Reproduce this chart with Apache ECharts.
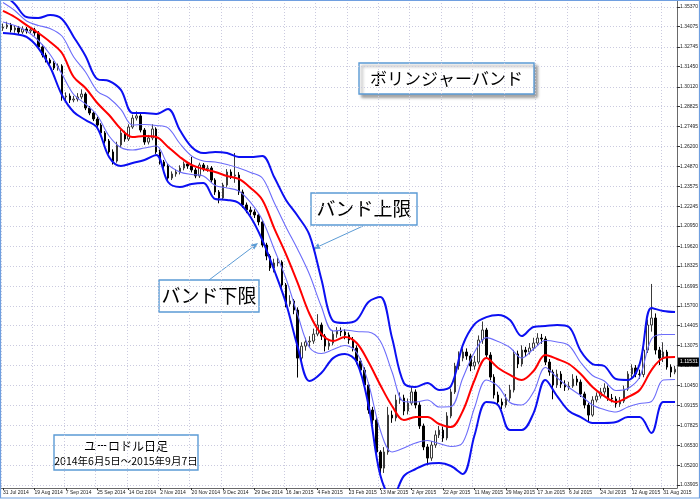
<!DOCTYPE html>
<html>
<head>
<meta charset="utf-8">
<script src="https://cdn.jsdelivr.net/npm/echarts@6/dist/echarts.min.js"></script>
<style>
  html, body { margin: 0; padding: 0; background: #ffffff; }
  #chart { width: 700px; height: 499px; }
</style>
</head>
<body>
<div id="chart"></div>
<script>
// EUR/USD daily bars (two sessions per bar) with Bollinger bands

const xTickLabels = ['31 Jul 2014','19 Aug 2014','7 Sep 2014','25 Sep 2014','14 Oct 2014','2 Nov 2014',
  '20 Nov 2014','9 Dec 2014','29 Dec 2014','16 Jan 2015','4 Feb 2015','23 Feb 2015','13 Mar 2015',
  '2 Apr 2015','22 Apr 2015','11 May 2015','29 May 2015','17 Jun 2015','6 Jul 2015','24 Jul 2015',
  '12 Aug 2015','31 Aug 2015'];

const yTickLabels = ['1.35370','1.34075','1.32745','1.31450','1.30120','1.28825','1.27495','1.26200',
  '1.24870','1.23575','1.22245','1.20950','1.19620','1.18325','1.16995','1.15700','1.14405','1.13075',
  '1.11780','1.10450','1.09155','1.07825','1.06530','1.05200','1.03905'];

const open = [1.3398,1.3405,1.3418,1.3386,1.3399,1.3372,1.3392,1.3379,1.3386,1.3366,
  1.3274,1.3221,1.3188,1.3168,1.3135,1.3149,1.2945,1.2951,1.2925,1.2931,
  1.2945,1.2964,1.2872,1.2839,1.2800,1.2760,1.2708,1.2655,1.2583,1.2523,
  1.2629,1.2708,1.2668,1.2747,1.2806,1.2820,1.2727,1.2648,1.2675,1.2734,
  1.2583,1.2517,1.2490,1.2411,1.2438,1.2451,1.2477,1.2504,1.2490,1.2464,
  1.2425,1.2497,1.2471,1.2477,1.2398,1.2319,1.2280,1.2365,1.2451,1.2425,
  1.2431,1.2319,1.2234,1.2201,1.2188,1.2168,1.2122,1.1970,1.1898,1.1819,
  1.1852,1.1858,1.1707,1.1582,1.1602,1.1542,1.1226,1.1305,1.1332,1.1338,
  1.1384,1.1444,1.1371,1.1305,1.1325,1.1384,1.1404,1.1398,1.1378,1.1345,
  1.1292,1.1207,1.1147,1.1049,1.0884,1.0818,1.0608,1.0502,1.0608,1.0851,
  1.0832,1.0950,1.0963,1.0878,1.0930,1.1003,1.0917,1.0779,1.0641,1.0568,
  1.0654,1.0720,1.0752,1.0700,1.0845,1.1003,1.1174,1.1226,1.1266,1.1240,
  1.1174,1.1200,1.1345,1.1411,1.1246,1.1101,1.0983,1.0937,1.0917,1.0963,
  1.1016,1.1253,1.1187,1.1279,1.1266,1.1292,1.1325,1.1358,1.1352,1.1200,
  1.1134,1.1049,1.1121,1.1055,1.1036,1.1042,1.1088,1.1068,1.0990,1.0917,
  1.0851,1.0950,1.0976,1.1003,1.1029,1.0963,1.0957,1.0924,1.0943,1.1022,
  1.1121,1.1161,1.1121,1.1118,1.1279,1.1444,1.1490,1.1279,1.1226,1.1266,
  1.1167,1.1134];

const close = [1.3405,1.3418,1.3386,1.3399,1.3372,1.3392,1.3379,1.3386,1.3366,1.3274,
  1.3221,1.3188,1.3168,1.3135,1.3149,1.2945,1.2951,1.2925,1.2931,1.2945,
  1.2964,1.2872,1.2839,1.2800,1.2760,1.2708,1.2655,1.2583,1.2523,1.2629,
  1.2708,1.2668,1.2747,1.2806,1.2820,1.2727,1.2648,1.2675,1.2734,1.2583,
  1.2517,1.2490,1.2411,1.2438,1.2451,1.2477,1.2504,1.2490,1.2464,1.2425,
  1.2497,1.2471,1.2477,1.2398,1.2319,1.2280,1.2365,1.2451,1.2425,1.2431,
  1.2319,1.2234,1.2201,1.2188,1.2168,1.2122,1.1970,1.1898,1.1819,1.1852,
  1.1858,1.1707,1.1582,1.1602,1.1542,1.1226,1.1305,1.1332,1.1338,1.1384,
  1.1444,1.1371,1.1305,1.1325,1.1384,1.1404,1.1398,1.1378,1.1345,1.1292,
  1.1207,1.1147,1.1049,1.0884,1.0818,1.0608,1.0502,1.0608,1.0851,1.0832,
  1.0950,1.0963,1.0878,1.0930,1.1003,1.0917,1.0779,1.0641,1.0568,1.0654,
  1.0720,1.0752,1.0700,1.0845,1.1003,1.1174,1.1226,1.1266,1.1240,1.1174,
  1.1200,1.1345,1.1411,1.1246,1.1101,1.0983,1.0937,1.0917,1.0963,1.1016,
  1.1253,1.1187,1.1279,1.1266,1.1292,1.1325,1.1358,1.1352,1.1200,1.1134,
  1.1049,1.1121,1.1055,1.1036,1.1042,1.1088,1.1068,1.0990,1.0917,1.0851,
  1.0950,1.0976,1.1003,1.1029,1.0963,1.0957,1.0924,1.0943,1.1022,1.1121,
  1.1161,1.1121,1.1118,1.1279,1.1444,1.1490,1.1279,1.1226,1.1266,1.1167,
  1.1134,1.11531];

const high = [1.3428,1.3440,1.3432,1.3418,1.3412,1.3410,1.3405,1.3404,1.3400,1.3378,
  1.3290,1.3236,1.3200,1.3180,1.3165,1.3160,1.2975,1.2968,1.2952,1.2970,
  1.2995,1.2975,1.2885,1.2850,1.2815,1.2772,1.2720,1.2668,1.2600,1.2650,
  1.2730,1.2722,1.2765,1.2828,1.2850,1.2832,1.2740,1.2695,1.2765,1.2745,
  1.2598,1.2530,1.2505,1.2455,1.2470,1.2495,1.2520,1.2518,1.2550,1.2478,
  1.2512,1.2510,1.2496,1.2490,1.2410,1.2332,1.2380,1.2470,1.2468,1.2576,
  1.2450,1.2335,1.2250,1.2222,1.2205,1.2180,1.2135,1.1985,1.1910,1.1880,
  1.1885,1.1870,1.1720,1.1640,1.1615,1.1560,1.1330,1.1360,1.1370,1.1420,
  1.1515,1.1460,1.1385,1.1350,1.1410,1.1430,1.1428,1.1415,1.1395,1.1365,
  1.1310,1.1225,1.1165,1.1065,1.0905,1.0835,1.0620,1.0640,1.0905,1.0880,
  1.0985,1.1000,1.0985,1.0960,1.1035,1.1020,1.0935,1.0795,1.0660,1.0680,
  1.0750,1.0780,1.0775,1.0870,1.1025,1.1195,1.1270,1.1290,1.1290,1.1255,
  1.1240,1.1375,1.1467,1.1425,1.1265,1.1120,1.1005,1.0960,1.0990,1.1050,
  1.1280,1.1275,1.1310,1.1300,1.1325,1.1360,1.1390,1.1385,1.1370,1.1220,
  1.1150,1.1150,1.1140,1.1080,1.1070,1.1120,1.1110,1.1085,1.1005,1.0930,
  1.0975,1.1000,1.1030,1.1060,1.1045,1.0990,1.0975,1.0970,1.1045,1.1140,
  1.1185,1.1180,1.1150,1.1300,1.1480,1.1714,1.1520,1.1300,1.1330,1.1280,
  1.1185,1.1175];

const low = [1.3380,1.3392,1.3370,1.3368,1.3355,1.3360,1.3362,1.3365,1.3348,1.3262,
  1.3205,1.3172,1.3148,1.3122,1.3118,1.2920,1.2918,1.2905,1.2910,1.2915,
  1.2930,1.2858,1.2825,1.2786,1.2745,1.2692,1.2638,1.2570,1.2500,1.2512,
  1.2612,1.2650,1.2655,1.2735,1.2790,1.2712,1.2630,1.2632,1.2660,1.2570,
  1.2500,1.2474,1.2395,1.2398,1.2420,1.2435,1.2462,1.2472,1.2448,1.2410,
  1.2412,1.2455,1.2452,1.2382,1.2300,1.2245,1.2268,1.2350,1.2405,1.2380,
  1.2300,1.2215,1.2180,1.2165,1.2148,1.2100,1.1955,1.1870,1.1800,1.1790,
  1.1830,1.1690,1.1560,1.1565,1.1515,1.1098,1.1190,1.1275,1.1300,1.1320,
  1.1370,1.1345,1.1270,1.1280,1.1310,1.1360,1.1370,1.1350,1.1320,1.1270,
  1.1185,1.1120,1.1030,1.0860,1.0790,1.0585,1.0462,1.0470,1.0590,1.0800,
  1.0810,1.0925,1.0850,1.0855,1.0915,1.0895,1.0760,1.0620,1.0521,1.0550,
  1.0635,1.0700,1.0675,1.0685,1.0830,1.0990,1.1150,1.1205,1.1215,1.1140,
  1.1150,1.1185,1.1320,1.1220,1.1080,1.0960,1.0915,1.0890,1.0900,1.0945,
  1.1000,1.1160,1.1170,1.1235,1.1250,1.1275,1.1310,1.1320,1.1180,1.1110,
  1.0955,1.1030,1.1030,1.1010,1.1015,1.1030,1.1045,1.0970,1.0895,1.0808,
  1.0840,1.0935,1.0960,1.0985,1.0945,1.0935,1.0900,1.0905,1.0930,1.1010,
  1.1095,1.1100,1.1090,1.1100,1.1260,1.1400,1.1250,1.1180,1.1200,1.1150,
  1.1100,1.1120];

// Bollinger band readings, one value every third bar
const upper2 = [1.3623,1.3557,1.3471,1.3465,1.3484,1.3458,1.3340,1.3215,1.3063,1.3050,
  1.2991,1.2839,1.2839,1.2833,1.2866,1.2727,1.2616,1.2576,1.2583,1.2576,
  1.2550,1.2550,1.2556,1.2418,1.2267,1.2161,1.2036,1.1747,1.1470,1.1457,
  1.1477,1.1595,1.1628,1.1358,1.1062,1.1036,1.1062,1.1016,1.1042,1.1312,
  1.1450,1.1496,1.1510,1.1477,1.1371,1.1431,1.1437,1.1444,1.1431,1.1273,
  1.1187,1.1174,1.1088,1.1082,1.1187,1.1556,1.1536,1.1529];

const mid = [1.3511,1.3471,1.3418,1.3366,1.3307,1.3234,1.3076,1.3004,1.2905,1.2826,
  1.2734,1.2681,1.2688,1.2681,1.2616,1.2550,1.2497,1.2471,1.2451,1.2425,
  1.2405,1.2346,1.2267,1.2082,1.1911,1.1720,1.1516,1.1385,1.1338,1.1365,
  1.1325,1.1200,1.1049,1.0911,1.0818,1.0838,1.0838,1.0792,1.0772,1.0878,
  1.1082,1.1226,1.1161,1.1115,1.1082,1.1141,1.1246,1.1220,1.1187,1.1121,
  1.1036,1.0976,1.0937,1.0970,1.1016,1.1147,1.1226,1.1233];

const lower2 = [1.3366,1.3359,1.3340,1.3267,1.3142,1.2958,1.2846,1.2793,1.2741,1.2550,
  1.2490,1.2510,1.2530,1.2563,1.2385,1.2352,1.2372,1.2379,1.2273,1.2267,
  1.2247,1.2155,1.2003,1.1806,1.1589,1.1299,1.1075,1.1128,1.1226,1.1253,
  1.1200,1.0917,1.0456,1.0305,1.0450,1.0496,1.0529,1.0535,1.0516,1.0463,
  1.0720,1.0937,1.0917,1.0752,1.0752,1.0864,1.1082,1.0976,1.0878,1.0838,
  1.0799,1.0799,1.0805,1.0838,1.0838,1.0733,1.0937,1.0937];

const BAND_STEP = 3;
const LABEL_EVERY = 8;

const categories = close.map((_, i) => String(i));
const candles = close.map((c, i) => [open[i], c, low[i], high[i]]);
const bandPoints = arr => arr.map((v, k) => [k * BAND_STEP, v]);
// the 1-sigma bands sit halfway between the middle line and the 2-sigma bands
const upper1 = mid.map((m, k) => (m + upper2[k]) / 2);
const lower1 = mid.map((m, k) => (m + lower2[k]) / 2);
const yTicks = yTickLabels.map(Number);
const lastPrice = close[close.length - 1];
const isLabelled = i => i % LABEL_EVERY === 0;

const GRID_LINE = { color: '#cacadf', type: [1, 2], width: 1 };
const AXIS_FONT = 'Liberation Sans';
const JP_FONT = '"Noto Sans CJK JP", "Noto Sans", sans-serif';
const CALLOUT_BLUE = '#5b9bd5';

function bandLine(name, values, color, width) {
  return {
    name, type: 'line', data: bandPoints(values), symbol: 'none', smooth: 0.35,
    clip: true, z: 4, silent: true,
    lineStyle: { color, width }
  };
}

function callout(x, y, w, h, lines, shadow) {
  const children = [{
    type: 'rect',
    shape: { x, y, width: w, height: h },
    style: Object.assign({ fill: '#ffffff', stroke: CALLOUT_BLUE, lineWidth: 1.4 },
      shadow ? { shadowBlur: 3, shadowOffsetX: 3, shadowOffsetY: 3, shadowColor: 'rgba(0,0,0,0.35)' } : {})
  }];
  lines.forEach(l => children.push({
    type: 'text',
    style: { text: l.text, x: x + w / 2, y: l.y, fill: '#000', align: 'center', verticalAlign: 'middle',
      font: l.font }
  }));
  return { type: 'group', z: 20, children };
}

function arrow(x1, y1, x2, y2) {
  const ang = Math.atan2(y2 - y1, x2 - x1);
  const len = 7, half = 3;
  const bx = x2 - len * Math.cos(ang), by = y2 - len * Math.sin(ang);
  const px = -Math.sin(ang) * half, py = Math.cos(ang) * half;
  return {
    type: 'group', z: 20,
    children: [
      { type: 'line', shape: { x1, y1, x2: bx, y2: by }, style: { stroke: CALLOUT_BLUE, lineWidth: 1 } },
      { type: 'polygon', shape: { points: [[x2, y2], [bx + px, by + py], [bx - px, by - py]] },
        style: { fill: CALLOUT_BLUE } }
    ]
  };
}

const chart = echarts.init(document.getElementById('chart'), null, { renderer: 'canvas' });

chart.setOption({
  animation: false,
  backgroundColor: '#ffffff',
  grid: { left: 1, right: 23, top: 0, bottom: 11, outerBoundsMode: 'none', containLabel: false },
  xAxis: {
    type: 'category', data: categories, boundaryGap: true,
    axisLine: { show: true, lineStyle: { color: '#6a6a6a', width: 1 } },
    axisTick: { show: true, alignWithLabel: true, interval: isLabelled, length: 2,
      lineStyle: { color: '#333' } },
    axisLabel: { interval: isLabelled, formatter: v => xTickLabels[Number(v) / LABEL_EVERY],
      align: 'left', margin: 2, fontSize: 5, color: '#222', fontFamily: AXIS_FONT },
    splitLine: { show: true, interval: isLabelled, lineStyle: GRID_LINE }
  },
  yAxis: {
    type: 'value', position: 'right', min: 1.0371, max: 1.3583, scale: true,
    axisLine: { show: true, lineStyle: { color: '#6a6a6a', width: 1 } },
    axisTick: { show: true, customValues: yTicks, length: 3, lineStyle: { color: '#333' } },
    axisLabel: { customValues: yTicks, formatter: v => v.toFixed(5), margin: 3,
      fontSize: 5, color: '#222', fontFamily: AXIS_FONT },
    splitLine: { show: true, lineStyle: GRID_LINE }
  },
  series: [
    {
      name: 'EURUSD', type: 'candlestick', data: candles, barWidth: 2, z: 3, silent: true,
      itemStyle: { color: '#ffffff', color0: '#000000', borderColor: '#3a3a3a',
        borderColor0: '#000000', borderWidth: 1 }
    },
    bandLine('upper2', upper2, '#0c10f2', 2),
    bandLine('upper1', upper1, '#6c6cfa', 1.1),
    bandLine('mid', mid, '#ff0000', 2),
    bandLine('lower1', lower1, '#6c6cfa', 1.1),
    bandLine('lower2', lower2, '#0c10f2', 2),
    {
      // current price tag on the price scale
      name: 'last', type: 'line', data: [], z: 10, silent: true,
      markLine: {
        silent: true, symbol: ['none', 'none'], animation: false,
        data: [{ yAxis: lastPrice }],
        lineStyle: { color: 'rgba(0,0,0,0)', width: 0 },
        label: { show: true, position: 'end', distance: 1, formatter: () => lastPrice.toFixed(5),
          backgroundColor: '#000000', color: '#ffffff', fontSize: 5, fontFamily: AXIS_FONT,
          padding: [2, 2, 2, 2] }
      }
    }
  ],
  graphic: [
    { type: 'rect', z: 30, silent: true, shape: { x: 0.5, y: 0.5, width: 699, height: 497.5 },
      style: { fill: null, stroke: '#6f9fe0', lineWidth: 1.2 } },
    callout(359, 63, 175, 31, [{ text: 'ボリンジャーバンド', y: 79, font: '17px ' + JP_FONT }], true),
    callout(311, 193, 106, 32, [{ text: 'バンド上限', y: 209, font: '19px ' + JP_FONT }], false),
    callout(159, 280, 100, 32, [{ text: 'バンド下限', y: 296, font: '19px ' + JP_FONT }], false),
    callout(54, 435, 144, 35, [
      { text: 'ユーロドル日足', y: 446, font: '12px ' + JP_FONT },
      { text: '2014年6月5日～2015年9月7日', y: 461, font: '10.5px ' + JP_FONT }
    ], false),
    arrow(363, 226, 313, 249),
    arrow(209, 280, 258, 243)
  ]
});
</script>
</body>
</html>
